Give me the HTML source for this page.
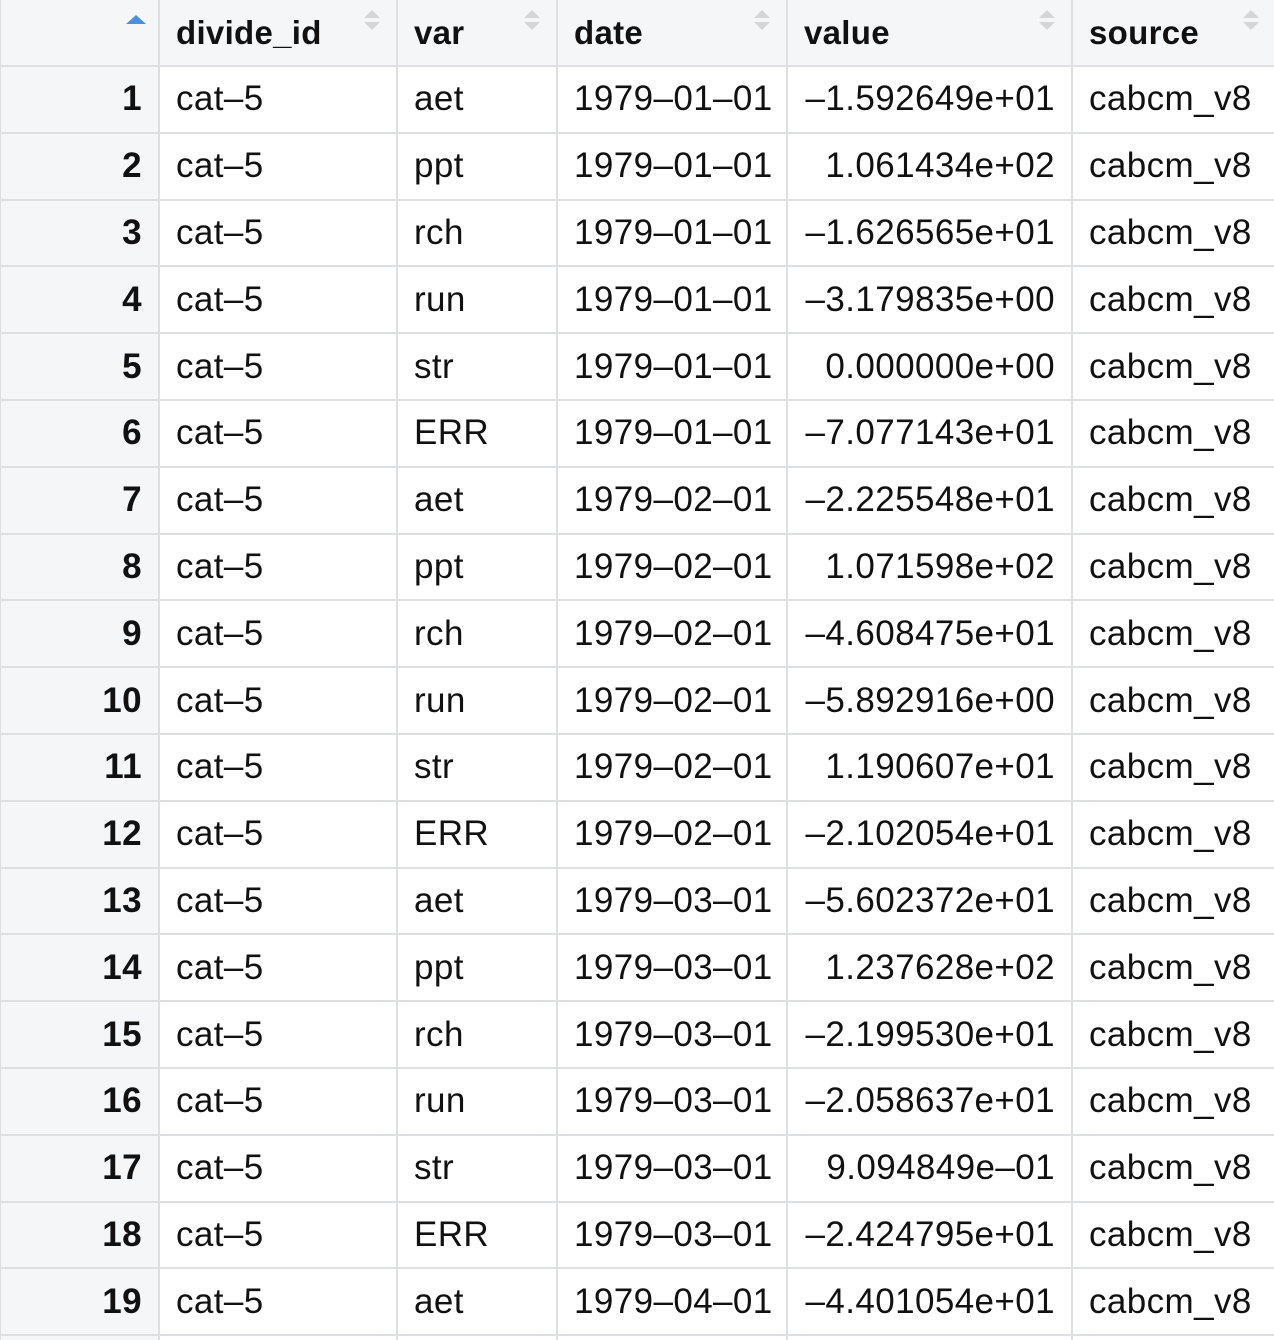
<!DOCTYPE html>
<html><head><meta charset="utf-8">
<style>
html,body{margin:0;padding:0;background:#fff;width:1274px;height:1340px;overflow:hidden}
table{border-collapse:collapse;table-layout:fixed;width:1276px;margin-left:-1px;font-family:"Liberation Sans",sans-serif;color:#111}
td,th{border:2px solid #dedfe1;padding:0 16px;white-space:nowrap;overflow:hidden;font-size:35px;letter-spacing:0.4px;vertical-align:middle}
tr{height:66.8px}
thead tr{height:66px}
th{background:#f5f6f8;text-align:left;font-weight:bold;position:relative;font-size:33px;letter-spacing:0.3px;border-top:none}
td.n{background:#f5f6f8;text-align:right;font-weight:bold}
td.v{text-align:right}
.s{position:absolute;top:10px;right:16px;width:16px;height:26px}
.s:before,.s:after{content:"";position:absolute;left:0;border-left:8px solid transparent;border-right:8px solid transparent}
.s:before{top:0;border-bottom:8px solid #d4d6da}
.s:after{top:12px;border-top:8px solid #d4d6da}
.up{position:absolute;top:15px;right:12px;border-left:10px solid transparent;border-right:10px solid transparent;border-bottom:9px solid #4a90e2}
</style></head><body>
<table>
<colgroup><col style="width:159px"><col style="width:238px"><col style="width:160px"><col style="width:230px"><col style="width:285px"><col style="width:204px"></colgroup>
<thead><tr>
<th><span class="up"></span></th>
<th>divide_id<span class="s"></span></th>
<th>var<span class="s"></span></th>
<th>date<span class="s"></span></th>
<th>value<span class="s"></span></th>
<th>source<span class="s"></span></th>
</tr></thead>
<tbody>
<tr><td class="n">1</td><td>cat–5</td><td>aet</td><td>1979–01–01</td><td class="v">–1.592649e+01</td><td>cabcm_v8</td></tr>
<tr><td class="n">2</td><td>cat–5</td><td>ppt</td><td>1979–01–01</td><td class="v">1.061434e+02</td><td>cabcm_v8</td></tr>
<tr><td class="n">3</td><td>cat–5</td><td>rch</td><td>1979–01–01</td><td class="v">–1.626565e+01</td><td>cabcm_v8</td></tr>
<tr><td class="n">4</td><td>cat–5</td><td>run</td><td>1979–01–01</td><td class="v">–3.179835e+00</td><td>cabcm_v8</td></tr>
<tr><td class="n">5</td><td>cat–5</td><td>str</td><td>1979–01–01</td><td class="v">0.000000e+00</td><td>cabcm_v8</td></tr>
<tr><td class="n">6</td><td>cat–5</td><td>ERR</td><td>1979–01–01</td><td class="v">–7.077143e+01</td><td>cabcm_v8</td></tr>
<tr><td class="n">7</td><td>cat–5</td><td>aet</td><td>1979–02–01</td><td class="v">–2.225548e+01</td><td>cabcm_v8</td></tr>
<tr><td class="n">8</td><td>cat–5</td><td>ppt</td><td>1979–02–01</td><td class="v">1.071598e+02</td><td>cabcm_v8</td></tr>
<tr><td class="n">9</td><td>cat–5</td><td>rch</td><td>1979–02–01</td><td class="v">–4.608475e+01</td><td>cabcm_v8</td></tr>
<tr><td class="n">10</td><td>cat–5</td><td>run</td><td>1979–02–01</td><td class="v">–5.892916e+00</td><td>cabcm_v8</td></tr>
<tr><td class="n">11</td><td>cat–5</td><td>str</td><td>1979–02–01</td><td class="v">1.190607e+01</td><td>cabcm_v8</td></tr>
<tr><td class="n">12</td><td>cat–5</td><td>ERR</td><td>1979–02–01</td><td class="v">–2.102054e+01</td><td>cabcm_v8</td></tr>
<tr><td class="n">13</td><td>cat–5</td><td>aet</td><td>1979–03–01</td><td class="v">–5.602372e+01</td><td>cabcm_v8</td></tr>
<tr><td class="n">14</td><td>cat–5</td><td>ppt</td><td>1979–03–01</td><td class="v">1.237628e+02</td><td>cabcm_v8</td></tr>
<tr><td class="n">15</td><td>cat–5</td><td>rch</td><td>1979–03–01</td><td class="v">–2.199530e+01</td><td>cabcm_v8</td></tr>
<tr><td class="n">16</td><td>cat–5</td><td>run</td><td>1979–03–01</td><td class="v">–2.058637e+01</td><td>cabcm_v8</td></tr>
<tr><td class="n">17</td><td>cat–5</td><td>str</td><td>1979–03–01</td><td class="v">9.094849e–01</td><td>cabcm_v8</td></tr>
<tr><td class="n">18</td><td>cat–5</td><td>ERR</td><td>1979–03–01</td><td class="v">–2.424795e+01</td><td>cabcm_v8</td></tr>
<tr><td class="n">19</td><td>cat–5</td><td>aet</td><td>1979–04–01</td><td class="v">–4.401054e+01</td><td>cabcm_v8</td></tr>
<tr><td class="n">20</td><td>cat–5</td><td>ppt</td><td>1979–04–01</td><td class="v"></td><td>cabcm_v8</td></tr>
</tbody></table>
</body></html>
